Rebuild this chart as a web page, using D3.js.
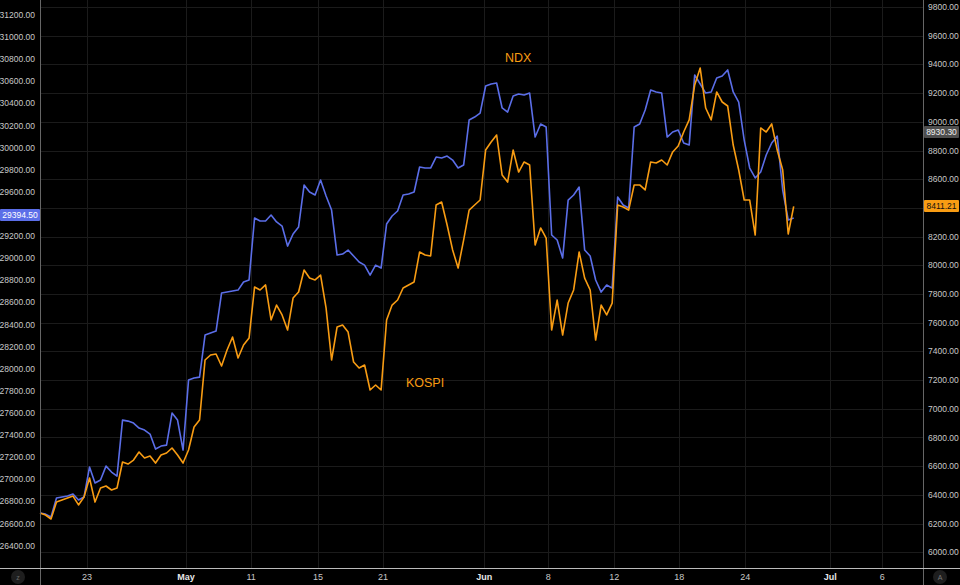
<!DOCTYPE html>
<html>
<head>
<meta charset="utf-8">
<script src="https://cdn.jsdelivr.net/npm/d3@7"></script>
<style>
  body { margin: 0; background: #000; }
  text { font-family: "Liberation Sans", Arial, sans-serif; }
</style>
</head>
<body>
<div id="chart"></div>
<script>
// one sample every 1/3 trading session
const step = 1 / 3;

// NDX, read against the left scale
const ndx = [26695, 26686, 26659, 26831, 26840, 26849, 26867, 26813, 26840, 27111,
    26967, 26994, 27120, 27066, 27030, 27536, 27527, 27509, 27464, 27446,
    27410, 27274, 27301, 27310, 27600, 27536, 27265, 27898, 27916, 27925,
    28305, 28323, 28341, 28685, 28694, 28703, 28712, 28785, 28803, 29364,
    29337, 29337, 29391, 29328, 29291, 29110, 29219, 29282, 29662, 29599,
    29572, 29707, 29563, 29436, 29029, 29038, 29074, 29020, 28966, 28938,
    28848, 28938, 28911, 29309, 29382, 29427, 29572, 29581, 29599, 29825,
    29816, 29816, 29915, 29906, 29924, 29888, 29816, 29843, 30250, 30277,
    30313, 30558, 30576, 30585, 30359, 30322, 30467, 30485, 30476, 30494,
    30096, 30214, 30187, 29210, 29165, 29002, 29526, 29572, 29644, 29074,
    29020, 28803, 28694, 28758, 28730, 29554, 29481, 29454, 30187, 30214,
    30341, 30522, 30504, 30494, 30096, 30142, 30160, 30042, 30024, 30657,
    30576, 30494, 30504, 30630, 30648, 30703, 30504, 30413, 30069, 29816,
    29726, 29780, 29934, 30042, 30105, 29617, 29346, 29365];

// KOSPI, read against the right scale
const kospi = [6274, 6260, 6232, 6350, 6364, 6378, 6392, 6330, 6385, 6518,
    6350, 6448, 6462, 6434, 6448, 6629, 6615, 6643, 6699, 6657,
    6671, 6622, 6678, 6692, 6727, 6678, 6622, 6713, 6873, 6922,
    7340, 7375, 7382, 7298, 7410, 7500, 7354, 7445, 7493, 7849,
    7828, 7863, 7619, 7723, 7654, 7549, 7772, 7814, 7967, 7911,
    7898, 7932, 7702, 7340, 7570, 7584, 7535, 7326, 7284, 7305,
    7131, 7166, 7131, 7619, 7723, 7758, 7842, 7863, 7884, 8093,
    8072, 8065, 8420, 8441, 8281, 8107, 7981, 8176, 8385, 8420,
    8455, 8803, 8859, 8908, 8629, 8580, 8803, 8650, 8720, 8699,
    8141, 8260, 8190, 7549, 7758, 7514, 7737, 7828, 8093, 7911,
    7828, 7479, 7723, 7654, 7737, 8420, 8406, 8385, 8560, 8560,
    8525, 8720, 8713, 8734, 8699, 8790, 8831, 8929, 9013, 9256,
    9375, 9096, 9013, 9208, 9138, 9110, 8838, 8664, 8455, 8455,
    8211, 8957, 8929, 8985, 8803, 8664, 8218, 8411.21];

// x ticks, in sessions from the left edge
const tickSessions = [2.85, 8.85, 12.79, 16.85, 20.79, 26.91, 30.79, 34.79, 38.73, 42.73, 47.88, 51.03];
const tickLabels = ["23", "May", "11", "15", "21", "Jun", "8", "12", "18", "24", "Jul", "6"];
const monthLabels = ["May", "Jun", "Jul"];

const leftTicks = d3.range(26400, 31201, 200);
const rightTicks = d3.range(6000, 9801, 200);

const lastNdx = 29394.50;
const lastKospi = 8411.21;
const prevKospi = 8930.30;

const width = 960, height = 585;
const plot = {left: 40, right: 923, bottom: 568};

const svg = d3.select("#chart").append("svg")
    .attr("width", width).attr("height", height)
    .style("background", "#000");

const x = d3.scaleLinear().domain([0, 53.5]).range([plot.left, plot.right]);
const yL = d3.scaleLinear().domain([26400, 31200]).range([545.7, 15]);
const yR = d3.scaleLinear().domain([6000, 9800]).range([552.3, 7]);

// grid
svg.append("g").selectAll("line").data(rightTicks).join("line")
    .attr("x1", plot.left).attr("x2", plot.right)
    .attr("y1", d => Math.round(yR(d)) + 0.5).attr("y2", d => Math.round(yR(d)) + 0.5)
    .attr("stroke", "#1b1b1b");
svg.append("g").selectAll("line").data(tickSessions).join("line")
    .attr("x1", d => Math.round(x(d)) + 0.5).attr("x2", d => Math.round(x(d)) + 0.5)
    .attr("y1", 0).attr("y2", plot.bottom)
    .attr("stroke", "#1b1b1b");

// series (orange drawn over blue)
const lineL = d3.line().x((d, i) => x(i * step)).y(d => yL(d));
const lineR = d3.line().x((d, i) => x(i * step)).y(d => yR(d));

svg.append("path").datum(ndx)
    .attr("fill", "none").attr("stroke", "#5b6ee8").attr("stroke-width", 1.6)
    .attr("stroke-linejoin", "round")
    .attr("d", lineL);
svg.append("path").datum(kospi)
    .attr("fill", "none").attr("stroke", "#f89c13").attr("stroke-width", 1.6)
    .attr("stroke-linejoin", "round")
    .attr("d", lineR);

// series labels
svg.append("text").attr("x", x(28.97)).attr("y", yL(30700) - 8)
    .attr("text-anchor", "middle").attr("fill", "#f89c13").attr("font-size", 12.5)
    .text("NDX");
svg.append("text").attr("x", x(23.33)).attr("y", yR(7131) - 3)
    .attr("text-anchor", "middle").attr("fill", "#f89c13").attr("font-size", 12.5)
    .text("KOSPI");

// axis frame
svg.append("line").attr("x1", plot.left + 0.5).attr("x2", plot.left + 0.5)
    .attr("y1", 0).attr("y2", height).attr("stroke", "#666");
svg.append("line").attr("x1", plot.right + 0.5).attr("x2", plot.right + 0.5)
    .attr("y1", 0).attr("y2", height).attr("stroke", "#666");
svg.append("line").attr("x1", 0).attr("x2", width)
    .attr("y1", plot.bottom + 0.5).attr("y2", plot.bottom + 0.5).attr("stroke", "#bbb");

// left axis labels (hide the one under the price tag)
svg.append("g").selectAll("text")
    .data(leftTicks.filter(d => Math.abs(yL(d) - yL(lastNdx)) > 8)).join("text")
    .attr("x", 35).attr("y", d => yL(d) + 3)
    .attr("text-anchor", "end").attr("fill", "#c8c8c8").attr("font-size", 8.5)
    .text(d => d3.format(".2f")(d));

// right axis labels
svg.append("g").selectAll("text")
    .data(rightTicks.filter(d => Math.abs(yR(d) - yR(lastKospi)) > 8)).join("text")
    .attr("x", 928).attr("y", d => yR(d) + 3)
    .attr("fill", "#c8c8c8").attr("font-size", 8.5)
    .text(d => d3.format(".2f")(d));

// x axis labels
svg.append("g").selectAll("text").data(tickSessions).join("text")
    .attr("x", d => x(d)).attr("y", 580)
    .attr("text-anchor", "middle")
    .attr("fill", (d, i) => monthLabels.includes(tickLabels[i]) ? "#e8e8e8" : "#c8c8c8")
    .attr("font-weight", (d, i) => monthLabels.includes(tickLabels[i]) ? "bold" : "normal")
    .attr("font-size", 9)
    .text((d, i) => tickLabels[i]);

// price tags
function tag(x0, w, y, fill, color, label){
    svg.append("rect").attr("x", x0).attr("y", Math.round(y) - 6).attr("width", w).attr("height", 12)
        .attr("fill", fill).attr("rx", 1);
    svg.append("text").attr("x", x0 + w / 2).attr("y", Math.round(y) + 3)
        .attr("text-anchor", "middle").attr("fill", color).attr("font-size", 8.5)
        .text(label);
}
tag(0, 40, yL(lastNdx), "#5b6ee8", "#fff", d3.format(".2f")(lastNdx));
tag(924, 35, yR(prevKospi), "#4e4e4e", "#f0f0f0", d3.format(".2f")(prevKospi));
tag(924, 35, yR(lastKospi), "#f89c13", "#111", d3.format(".2f")(lastKospi));

// corner buttons
svg.append("circle").attr("cx", 18).attr("cy", 577).attr("r", 7).attr("fill", "#1e1e1e");
svg.append("text").attr("x", 18).attr("y", 580).attr("text-anchor", "middle")
    .attr("fill", "#666").attr("font-size", 7).text("z");
svg.append("circle").attr("cx", 940).attr("cy", 577).attr("r", 7).attr("fill", "#1e1e1e");
svg.append("text").attr("x", 940).attr("y", 580).attr("text-anchor", "middle")
    .attr("fill", "#777").attr("font-size", 7).text("A");
</script>
</body>
</html>
